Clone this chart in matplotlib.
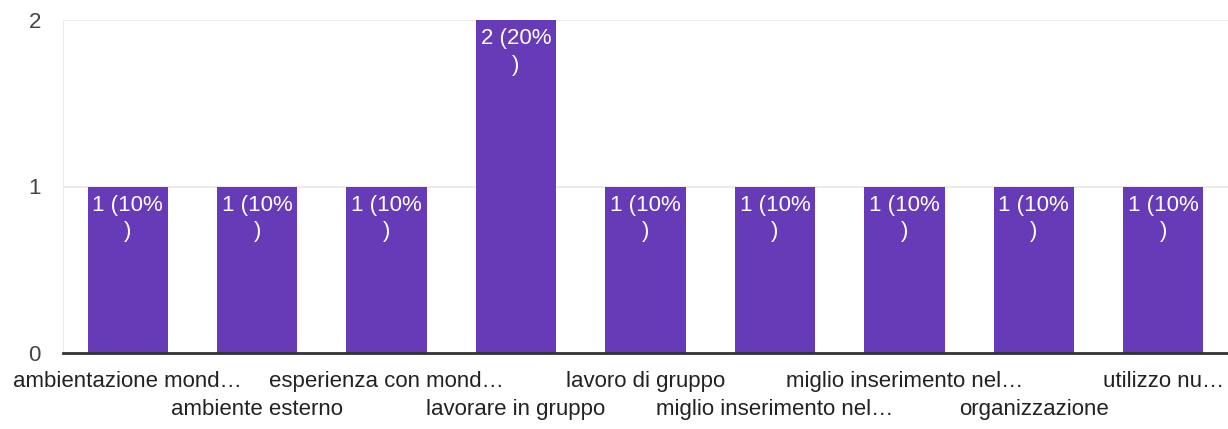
import matplotlib
matplotlib.use("Agg")
import matplotlib.pyplot as plt

categories = [
    "ambientazione mond\u2026",
    "ambiente esterno",
    "esperienza con mond\u2026",
    "lavorare in gruppo",
    "lavoro di gruppo",
    "miglio inserimento nel\u2026",
    "miglio inserimento nel\u2026",
    "organizzazione",
    "utilizzo nu\u2026",
]
counts = [1, 1, 1, 2, 1, 1, 1, 1, 1]
percents = [10, 10, 10, 20, 10, 10, 10, 10, 10]
yticks = [0, 1, 2]

plt.rcParams['font.family'] = ['Liberation Sans', 'DejaVu Sans']
bar_color = '#673ab7'

fig = plt.figure(figsize=(12.28, 4.29), dpi=100)
ax = fig.add_axes([63 / 1228, 1 - 353 / 429, 1 - 63 / 1228, (353 - 20) / 429])

x = list(range(len(categories)))
bars = ax.bar(x, counts, width=0.62, color=bar_color, zorder=2)

ax.set_xlim(-0.5, len(categories) - 0.5)
ax.set_ylim(0, 2)
ax.set_yticks(yticks)
ax.set_yticklabels([str(t) for t in yticks], fontsize=16, color='#444444')
ax.tick_params(axis='y', length=0, pad=16)
ax.tick_params(axis='x', length=0)
ax.set_xticks([])

# gridlines
for t in yticks[1:]:
    ax.axhline(t, color='#ebebeb', lw=1.5, zorder=1)
ax.axvline(-0.5, color='#ebebeb', lw=1.5, zorder=1)

for s in ['top', 'right', 'left']:
    ax.spines[s].set_visible(False)
ax.spines['bottom'].set_color('#333333')
ax.spines['bottom'].set_linewidth(2)
ax.spines['bottom'].set_zorder(3)

# value labels inside the bars
for xi, c, p in zip(x, counts, percents):
    ax.annotate(f"{c} ({p}%\n)", xy=(xi, c), xytext=(0, -6),
                textcoords='offset points', ha='center', va='top',
                color='white', fontsize=16, linespacing=1.35)

# category labels, alternating rows
for i, lab in enumerate(categories):
    off = -13 if i % 2 == 0 else -33
    ax.annotate(lab, xy=(i, 0), xytext=(0, off), textcoords='offset points',
                ha='center', va='top', color='#222222', fontsize=16,
                annotation_clip=False)

fig.savefig('out.png', dpi=100)
